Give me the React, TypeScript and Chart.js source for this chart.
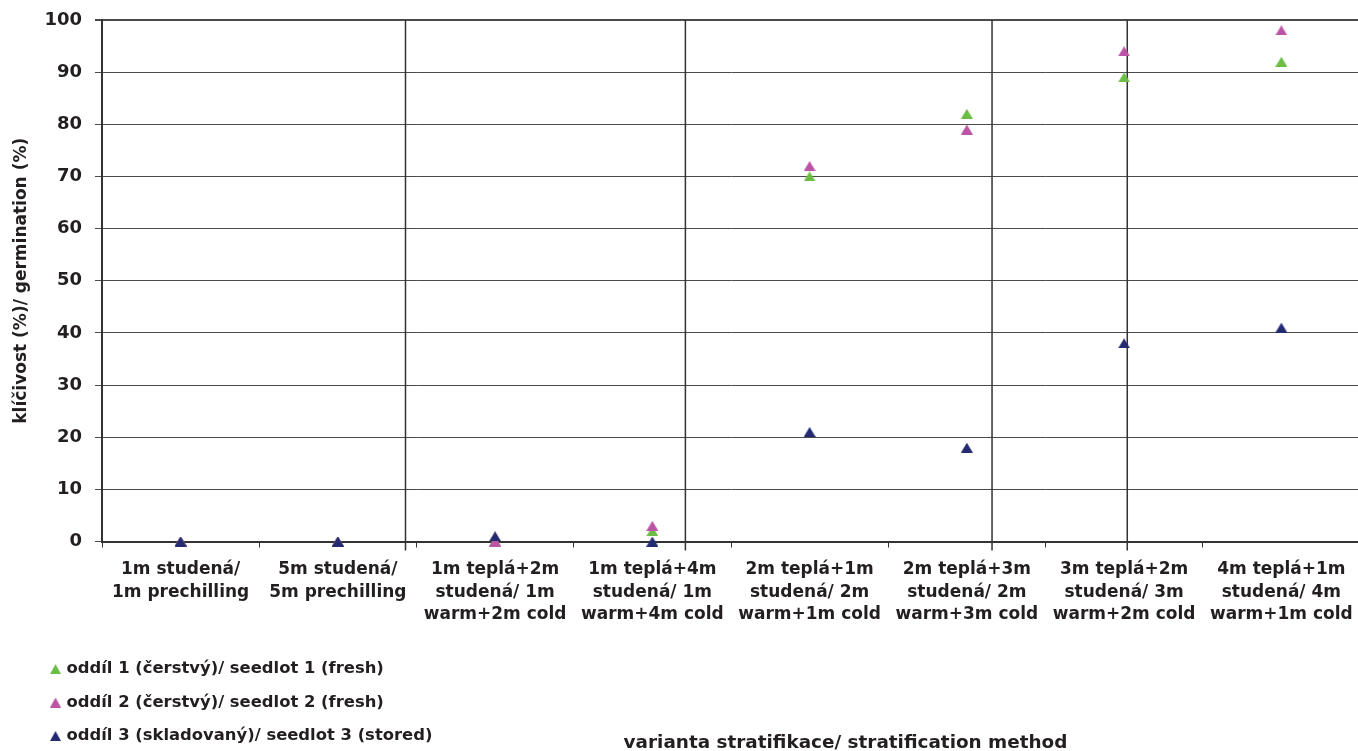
import { useEffect, useRef } from "react";
import { Chart, registerables } from "chart.js";

Chart.register(...registerables);

// Stratification variants (x categories), each split into label lines
const categories: string[][] = [
  ["1m studená/", "1m prechilling"],
  ["5m studená/", "5m prechilling"],
  ["1m teplá+2m", "studená/ 1m", "warm+2m cold"],
  ["1m teplá+4m", "studená/ 1m", "warm+4m cold"],
  ["2m teplá+1m", "studená/ 2m", "warm+1m cold"],
  ["2m teplá+3m", "studená/ 2m", "warm+3m cold"],
  ["3m teplá+2m", "studená/ 3m", "warm+2m cold"],
  ["4m teplá+1m", "studená/ 4m", "warm+1m cold"],
];

// Germination (%) per seedlot
const seedlot1 = [0, 0, 0, 2, 70, 82, 89, 92];
const seedlot2 = [0, 0, 0, 3, 72, 79, 94, 98];
const seedlot3 = [0, 0, 1, 0, 21, 18, 38, 41];

const seriesNames = [
  "oddíl 1 (čerstvý)/ seedlot 1 (fresh)",
  "oddíl 2 (čerstvý)/ seedlot 2 (fresh)",
  "oddíl 3 (skladovaný)/ seedlot 3 (stored)",
];
const seriesColors = ["#6cbd45", "#bb54a5", "#242a72"];

// Y axis range and step
const yMin = 0;
const yMax = 100;
const yStep = 10;

// Vertical separator lines, in category-index units
const dividerPositions = [1.43, 3.21, 5.16, 6.02];

const yTitle = "klíčivost (%)/ germination (%)";
const xTitle = "varianta stratifikace/ stratification method";

const FONT = "DejaVu Sans";
const TEXT = "#231f20";

function makeTriangle(color: string): HTMLCanvasElement {
  const c = document.createElement("canvas");
  c.width = 12;
  c.height = 10;
  const g = c.getContext("2d")!;
  g.fillStyle = color;
  g.beginPath();
  g.moveTo(0, 10);
  g.lineTo(6, 0);
  g.lineTo(12, 10);
  g.closePath();
  g.fill();
  return c;
}

export default function App() {
  const canvasRef = useRef<HTMLCanvasElement | null>(null);

  useEffect(() => {
    const canvas = canvasRef.current;
    if (!canvas) return;
    const markers = seriesColors.map(makeTriangle);
    const series = [seedlot1, seedlot2, seedlot3];

    const decor = {
      id: "decor",
      beforeDatasetsDraw(chart: any) {
        const { ctx, chartArea } = chart;
        const x = chart.scales.x;
        ctx.save();
        ctx.strokeStyle = "#333333";
        ctx.lineWidth = 1.5;
        dividerPositions.forEach((v) => {
          const px = x.getPixelForValue(v);
          ctx.beginPath();
          ctx.moveTo(px, chartArea.top);
          ctx.lineTo(px, chartArea.bottom + 9);
          ctx.stroke();
        });
        ctx.restore();
      },
      afterDraw(chart: any) {
        const { ctx } = chart;
        ctx.save();
        ctx.fillStyle = TEXT;
        ctx.textBaseline = "middle";
        ctx.textAlign = "left";
        ctx.font = `bold 16.4px "${FONT}"`;
        const rows = [669, 702.5, 736];
        seriesNames.forEach((name, i) => {
          ctx.drawImage(markers[i], 50, rows[i] - 5, 11, 10);
          ctx.fillText(name, 66.5, rows[i]);
        });
        ctx.font = `bold 18.4px "${FONT}"`;
        ctx.textAlign = "center";
        ctx.fillText(xTitle, 845.5, 743);
        ctx.restore();
      },
    };

    const chart = new Chart(canvas, {
      type: "line",
      data: {
        labels: categories as any,
        datasets: series.map((data, i) => ({
          label: seriesNames[i],
          data,
          showLine: false,
          pointStyle: markers[i] as any,
          pointRadius: 1,
          pointHoverRadius: 1,
          pointBorderWidth: 0,
          borderWidth: 0,
          backgroundColor: seriesColors[i],
          borderColor: seriesColors[i],
          order: 3 - i,
          clip: false as any,
        })),
      },
      options: {
        responsive: false,
        devicePixelRatio: 1,
        animation: false,
        events: [],
        layout: { padding: { top: 20, right: 1, left: 0, bottom: 0 } },
        plugins: {
          legend: { display: false },
          tooltip: { enabled: false },
        },
        scales: {
          x: {
            type: "category",
            offset: true,
            grid: {
              offset: true,
              drawOnChartArea: false,
              drawTicks: true,
              tickLength: 6,
              color: "#333333",
              lineWidth: 1,
            },
            border: { display: true, color: "#333333", width: 2 },
            ticks: {
              autoSkip: false,
              maxRotation: 0,
              minRotation: 0,
              padding: 11,
              color: TEXT,
              font: { family: FONT, size: 17, weight: "bold", lineHeight: 1.32 },
            },
            afterFit: (s: any) => {
              s.height = 209.5;
              s.paddingLeft = 0;
              s.paddingRight = 0;
            },
          },
          y: {
            min: yMin,
            max: yMax,
            ticks: {
              stepSize: yStep,
              padding: 13,
              color: TEXT,
              font: { family: FONT, size: 18, weight: "bold" },
            },
            grid: {
              color: "#4a4a4a",
              lineWidth: (c: any) => (c.tick && c.tick.value === yMax ? 2 : 1),
              tickLength: 7,
              drawTicks: true,
            },
            border: { display: true, color: "#333333", width: 2 },
            title: {
              display: true,
              text: yTitle,
              color: TEXT,
              font: { family: FONT, size: 17, weight: "bold" },
              padding: { top: 11, bottom: 0 },
            },
            afterFit: (s: any) => {
              s.width = 102;
              s.paddingTop = 0;
              s.paddingBottom = 0;
            },
          },
        },
      },
      plugins: [decor],
    } as any);

    return () => chart.destroy();
  }, []);

  return (
    <div
      style={{
        position: "fixed",
        left: 0,
        top: 0,
        width: 1358,
        height: 751,
        overflow: "hidden",
        background: "#ffffff",
      }}
    >
      <canvas ref={canvasRef} width={1361} height={751} style={{ display: "block" }} />
    </div>
  );
}
